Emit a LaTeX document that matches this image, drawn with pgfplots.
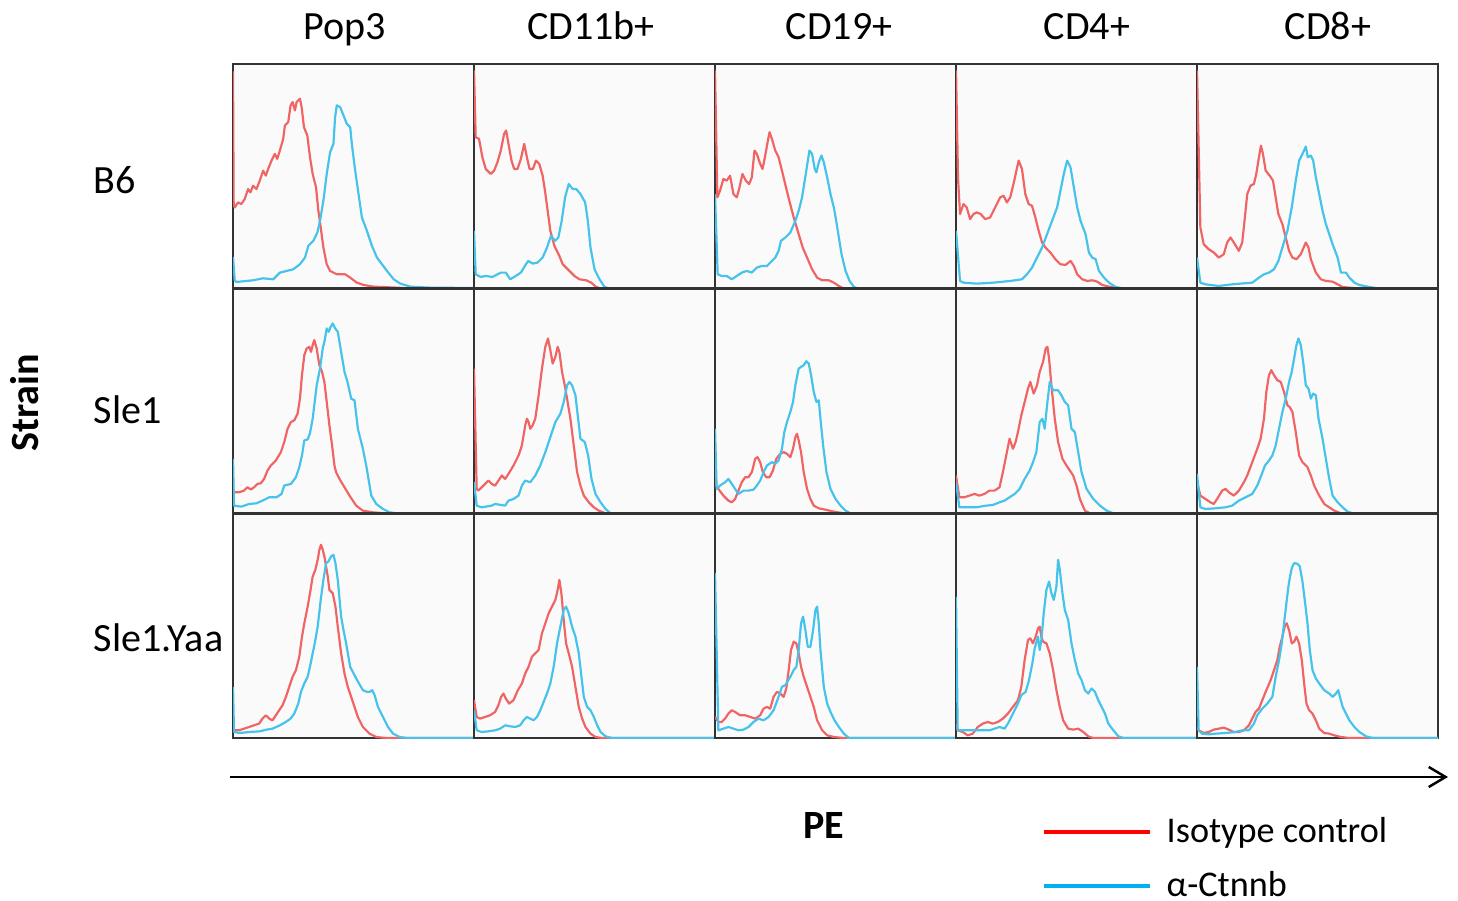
\documentclass[border=0pt]{standalone}
\usepackage{fontspec}
\setmainfont{Carlito}
\usepackage{pgfplots}
\pgfplotsset{compat=1.18}
\usetikzlibrary{arrows.meta}

\definecolor{isored}{RGB}{240,100,100}
\definecolor{ctnblue}{RGB}{70,195,235}
\definecolor{legred}{RGB}{255,0,0}
\definecolor{legblue}{RGB}{0,176,240}

% one pixel of the reference = 0.01cm; panels are 241 x 224.7 px
\pgfplotsset{
  panel/.style={
    anchor=south west, scale only axis,
    width=2.41cm, height=2.247cm,
    xmin=0, xmax=720, ymin=0, ymax=672,
    ticks=none,
    axis line style={black!80, line width=0.75pt},
    axis background/.style={fill=black!2},
    every axis plot/.append style={line width=0.62pt, line join=round},
  },
}
% #1 column, #2 row, #3 isotype control, #4 anti-Ctnnb
\newcommand\panel[4]{%
  \pgfmathsetmacro\px{2.33+2.41*#1}%
  \pgfmathsetmacro\py{8.37-2.2467*(#2+1)}%
  \begin{axis}[panel, at={(\px cm,\py cm)}]
    \addplot[isored] coordinates {#3};
    \addplot[ctnblue] coordinates {#4};
  \end{axis}}

\begin{document}
\begin{tikzpicture}
\path[use as bounding box] (0,0) rectangle (14.58,9.01);
\fontsize{11.4}{13.5}\selectfont

% ---- row B6
\panel{0}{0}{(0,650)(2,250)(5,243)(15,258)(25,253)(35,268)(45,298)(52,288)(60,308)(70,298)(80,323)(90,353)(98,338)(105,358)(115,383)(125,403)(132,388)(140,413)(150,448)(155,488)(165,498)(172,548)(178,558)(185,533)(190,558)(200,568)(205,543)(212,483)(222,458)(230,393)(238,343)(248,303)(255,233)(262,183)(270,123)(280,73)(290,53)(310,43)(335,43)(350,33)(370,18)(390,11)(420,6)(490,3)(540,0)(720,0)}
{(0,95)(5,25)(10,20)(30,22)(60,25)(90,31)(120,28)(140,48)(160,53)(180,58)(200,73)(215,93)(225,128)(240,143)(252,168)(260,203)(270,263)(280,343)(290,408)(300,433)(305,513)(310,548)(320,543)(330,518)(340,493)(350,483)(355,433)(365,353)(375,283)(385,213)(400,173)(415,128)(430,93)(445,73)(460,53)(480,28)(500,15)(530,6)(590,3)(720,2)}
\panel{1}{0}{(0,653)(5,453)(15,448)(25,393)(35,358)(50,343)(60,353)(70,378)(80,413)(90,463)(96,473)(103,433)(112,383)(120,358)(130,358)(140,388)(150,433)(158,393)(166,358)(176,358)(185,383)(195,373)(205,338)(212,293)(220,233)(228,173)(240,128)(255,98)(265,73)(280,58)(300,38)(315,28)(335,25)(350,18)(365,5)(380,0)(720,0)}
{(0,173)(5,43)(20,35)(35,38)(55,35)(80,48)(95,48)(108,28)(120,35)(140,48)(152,68)(162,83)(175,75)(190,78)(205,93)(218,123)(230,158)(242,143)(252,153)(262,203)(272,273)(283,313)(295,298)(305,298)(318,283)(332,258)(340,203)(348,123)(360,58)(375,28)(390,5)(405,0)(720,0)}
\panel{2}{0}{(0,653)(7,273)(15,293)(25,328)(35,323)(45,338)(55,283)(65,273)(72,298)(82,343)(92,323)(102,313)(110,333)(118,413)(125,403)(135,373)(142,358)(150,398)(158,443)(163,468)(170,448)(180,413)(190,393)(200,353)(212,303)(222,263)(235,213)(250,163)(262,123)(275,93)(290,58)(305,33)(320,25)(340,25)(355,18)(370,8)(385,0)(720,0)}
{(0,283)(8,43)(20,38)(35,38)(50,28)(65,38)(80,48)(95,53)(110,48)(125,63)(140,68)(155,68)(165,78)(180,93)(190,113)(197,143)(210,153)(225,168)(240,203)(250,233)(260,273)(268,323)(275,368)(282,413)(290,403)(298,358)(303,348)(310,378)(318,398)(325,378)(335,333)(345,283)(355,243)(362,203)(370,153)(378,103)(390,53)(402,23)(415,5)(430,0)(720,0)}
\panel{3}{0}{(0,653)(6,330)(12,223)(22,253)(32,243)(42,208)(52,223)(62,228)(74,223)(87,208)(102,213)(117,243)(132,273)(142,278)(152,258)(162,273)(174,323)(187,383)(197,358)(207,283)(217,253)(227,248)(237,213)(247,173)(257,138)(267,123)(282,108)(297,88)(312,73)(327,71)(342,83)(352,68)(362,43)(377,28)(392,23)(407,25)(422,21)(437,11)(462,5)(492,0)(720,0)}
{(0,173)(12,23)(22,18)(62,15)(112,18)(162,23)(197,28)(212,43)(227,63)(242,93)(257,123)(272,163)(287,203)(302,243)(312,293)(322,343)(332,383)(342,363)(352,303)(362,243)(372,203)(387,163)(397,108)(407,93)(417,88)(427,53)(442,33)(457,18)(477,5)(502,0)(720,0)}
\panel{4}{0}{(0,653)(10,183)(20,133)(35,118)(50,108)(65,93)(80,103)(90,138)(100,153)(110,138)(125,113)(135,138)(143,213)(150,283)(160,308)(170,313)(177,343)(185,393)(191,428)(197,403)(205,353)(217,338)(227,323)(235,273)(243,223)(255,193)(265,153)(275,113)(285,93)(297,88)(310,103)(325,138)(333,123)(340,88)(355,48)(370,28)(385,23)(405,21)(420,13)(435,5)(465,2)(505,0)(720,0)}
{(0,93)(10,18)(25,13)(65,8)(105,13)(165,18)(185,33)(200,43)(215,48)(230,58)(243,83)(255,123)(270,173)(283,243)(295,323)(305,383)(315,403)(325,425)(331,393)(340,398)(347,383)(355,333)(365,283)(375,233)(385,193)(395,163)(405,133)(420,93)(430,48)(445,48)(455,33)(470,18)(485,11)(515,5)(545,0)(720,0)}

% ---- row Sle1
\panel{0}{1}{(0,70)(3,63)(18,63)(33,68)(43,78)(53,71)(63,78)(73,88)(83,90)(93,103)(103,128)(113,143)(128,158)(143,183)(153,213)(163,253)(173,273)(183,278)(193,298)(200,343)(206,413)(213,473)(220,493)(228,498)(233,483)(238,503)(243,518)(250,493)(258,443)(266,423)(273,393)(280,333)(288,263)(296,203)(303,143)(308,123)(318,103)(333,78)(348,53)(368,23)(388,8)(418,3)(458,0)(720,0)}
{(0,163)(3,23)(25,20)(48,28)(70,30)(88,38)(108,48)(130,48)(145,58)(153,83)(173,88)(188,108)(198,138)(206,173)(213,218)(223,221)(230,240)(238,283)(250,383)(260,433)(268,493)(273,513)(280,553)(286,543)(292,558)(298,568)(305,553)(313,543)(323,483)(333,423)(342,393)(353,343)(363,338)(373,253)(388,193)(398,143)(413,53)(428,28)(448,13)(468,3)(490,0)(720,0)}
\panel{1}{1}{(0,433)(8,73)(13,68)(28,83)(43,98)(53,88)(63,83)(73,98)(83,113)(93,103)(103,118)(118,143)(133,173)(143,203)(153,263)(158,283)(163,273)(168,253)(175,263)(183,283)(193,353)(203,433)(213,498)(221,523)(228,488)(235,448)(243,468)(250,498)(255,483)(263,423)(271,383)(278,343)(288,283)(298,203)(308,123)(318,83)(328,53)(343,33)(358,18)(373,8)(393,0)(720,0)}
{(0,93)(8,23)(23,18)(53,23)(63,28)(93,23)(103,38)(118,43)(133,53)(143,83)(153,98)(168,93)(183,113)(198,143)(213,183)(223,213)(233,243)(243,273)(258,298)(268,333)(278,383)(285,393)(293,383)(303,353)(311,283)(318,223)(331,213)(341,173)(351,103)(363,58)(378,33)(393,13)(408,0)(720,0)}
\panel{2}{1}{(0,203)(3,83)(10,73)(25,53)(40,38)(50,33)(60,43)(70,68)(80,93)(90,108)(100,108)(110,123)(120,163)(127,168)(135,153)(143,123)(153,108)(163,108)(173,128)(183,163)(195,178)(205,183)(215,178)(225,168)(233,193)(240,228)(245,238)(250,218)(257,183)(265,123)(275,73)(285,43)(295,23)(310,15)(330,11)(355,5)(385,0)(720,0)}
{(0,253)(5,73)(15,83)(30,93)(40,103)(50,88)(60,73)(70,58)(85,68)(100,68)(115,71)(125,83)(135,98)(145,123)(155,143)(170,153)(180,148)(190,158)(200,193)(207,243)(215,273)(225,303)(233,333)(240,383)(250,433)(257,438)(265,443)(273,455)(280,448)(287,413)(295,363)(303,333)(310,338)(315,283)(323,203)(333,123)(345,73)(360,43)(375,23)(390,8)(405,0)(720,0)}
\panel{3}{1}{(0,113)(10,48)(25,48)(40,53)(55,58)(70,53)(85,58)(100,68)(115,68)(130,78)(140,123)(150,173)(160,223)(170,193)(178,213)(185,243)(195,293)(205,333)(215,373)(222,393)(232,358)(242,383)(250,423)(260,453)(268,493)(273,498)(278,463)(285,383)(295,283)(305,213)(318,163)(330,143)(340,128)(350,113)(360,83)(370,43)(385,8)(400,0)(720,0)}
{(0,93)(10,18)(30,18)(60,18)(90,23)(110,25)(130,33)(145,38)(160,48)(175,58)(190,73)(205,103)(220,128)(230,153)(240,183)(250,273)(258,283)(265,253)(272,323)(280,393)(290,368)(305,368)(315,353)(325,333)(335,323)(345,253)(355,243)(365,183)(375,123)(390,73)(410,43)(430,23)(450,8)(470,0)(720,0)}
\panel{4}{1}{(0,93)(10,53)(25,43)(40,33)(50,28)(60,43)(75,68)(85,73)(95,63)(110,53)(125,68)(140,93)(150,113)(165,153)(180,193)(190,223)(200,283)(207,363)(215,413)(222,428)(230,413)(240,398)(250,393)(260,363)(270,323)(277,318)(285,303)(295,243)(305,173)(315,153)(330,138)(340,113)(350,83)(365,53)(380,28)(395,18)(410,8)(430,0)(720,0)}
{(0,118)(10,18)(25,13)(55,15)(85,18)(105,23)(125,38)(145,48)(165,58)(180,83)(190,108)(203,143)(215,158)(225,173)(235,203)(245,253)(255,303)(265,343)(275,393)(283,423)(290,463)(297,503)(303,523)(310,503)(317,453)(325,383)(333,373)(340,343)(347,358)(355,353)(363,283)(375,223)(385,163)(395,103)(405,53)(420,33)(435,18)(450,5)(465,0)(720,0)}

% ---- row Sle1.Yaa
\panel{0}{2}{(0,23)(3,23)(18,23)(33,28)(48,33)(63,38)(78,43)(88,58)(98,68)(108,58)(118,53)(128,68)(138,83)(148,98)(158,123)(168,153)(178,183)(188,203)(198,243)(206,303)(213,343)(223,393)(230,433)(238,483)(246,503)(253,533)(258,563)(263,578)(268,563)(273,543)(278,513)(283,483)(288,443)(298,433)(306,393)(313,333)(323,253)(333,193)(343,153)(353,123)(363,93)(373,63)(388,33)(408,13)(428,3)(458,0)(720,0)}
{(0,153)(3,18)(20,15)(50,18)(80,20)(100,25)(118,28)(140,38)(158,48)(172,58)(183,73)(195,103)(203,138)(213,163)(223,183)(232,223)(238,253)(246,293)(253,333)(262,413)(270,473)(278,523)(285,528)(293,543)(300,548)(306,523)(313,473)(323,363)(330,323)(338,283)(350,213)(368,178)(388,143)(400,138)(408,138)(416,143)(423,128)(433,93)(448,63)(463,33)(478,13)(498,3)(520,0)(720,0)}
\panel{1}{2}{(0,113)(8,63)(18,58)(33,63)(48,68)(63,78)(73,98)(81,123)(88,133)(95,118)(105,103)(118,113)(131,143)(143,163)(153,193)(163,213)(173,243)(183,253)(193,263)(203,313)(213,343)(223,373)(233,393)(243,413)(250,443)(255,473)(261,433)(268,353)(275,283)(283,253)(293,213)(303,153)(313,93)(323,58)(333,33)(348,13)(363,3)(383,0)(720,0)}
{(0,83)(8,23)(23,18)(43,20)(63,23)(78,28)(93,38)(108,35)(123,33)(138,38)(148,53)(158,63)(168,58)(178,53)(188,63)(198,83)(208,108)(218,133)(228,163)(238,213)(248,283)(258,333)(268,383)(275,393)(283,373)(293,333)(303,303)(313,253)(321,183)(328,123)(338,93)(348,83)(358,63)(368,38)(378,18)(393,5)(413,0)(720,0)}
\panel{2}{2}{(0,63)(10,48)(20,48)(30,58)(40,73)(50,83)(60,78)(75,68)(90,68)(105,63)(120,58)(135,68)(145,88)(155,93)(165,88)(175,123)(185,138)(195,133)(205,123)(213,148)(220,203)(227,263)(235,288)(243,283)(250,253)(257,213)(265,183)(275,153)(285,123)(295,93)(305,53)(320,23)(335,8)(355,3)(385,0)(720,0)}
{(0,493)(10,23)(25,28)(40,33)(55,28)(70,23)(85,25)(100,33)(115,48)(130,58)(145,53)(160,63)(175,83)(190,123)(200,153)(210,158)(225,183)(235,203)(243,213)(250,263)(257,343)(263,363)(270,323)(277,273)(285,273)(293,323)(300,383)(305,393)(310,343)(315,263)(325,153)(335,103)(345,78)(357,53)(370,33)(385,13)(400,0)(720,0)}
\panel{3}{2}{(0,43)(5,23)(20,18)(35,8)(50,13)(65,33)(80,43)(95,48)(110,43)(125,48)(140,58)(155,73)(170,93)(185,113)(195,153)(205,233)(215,293)(222,298)(230,283)(238,303)(245,328)(250,333)(255,303)(260,288)(270,283)(280,253)(290,203)(300,143)(310,93)(320,53)(335,28)(350,25)(365,28)(380,18)(395,5)(410,0)(720,0)}
{(0,423)(5,23)(20,23)(60,23)(100,23)(115,28)(130,33)(145,28)(155,43)(165,63)(175,83)(185,103)(195,128)(208,138)(218,173)(228,223)(235,268)(245,303)(250,263)(255,293)(262,373)(270,443)(278,468)(285,433)(292,413)(300,453)(305,533)(310,503)(318,433)(325,383)(335,353)(345,283)(355,233)(365,193)(375,173)(385,143)(395,133)(405,148)(415,138)(425,113)(435,93)(445,73)(455,43)(470,23)(485,5)(500,0)(720,0)}
\panel{4}{2}{(0,33)(5,23)(20,15)(35,18)(50,25)(65,28)(80,31)(95,25)(110,18)(125,18)(140,23)(155,38)(165,58)(175,78)(185,88)(195,113)(205,138)(220,173)(230,203)(240,233)(247,273)(255,303)(263,338)(268,343)(275,323)(283,283)(290,288)(297,303)(305,283)(313,233)(320,163)(327,103)(335,83)(345,73)(355,53)(365,28)(380,15)(395,13)(410,8)(430,3)(455,0)(720,0)}
{(0,213)(5,23)(15,13)(35,11)(55,13)(85,15)(115,18)(135,23)(155,23)(170,43)(180,68)(195,88)(210,103)(225,123)(235,183)(245,233)(253,283)(260,343)(267,403)(273,453)(277,478)(283,508)(290,523)(300,521)(307,513)(315,468)(323,403)(330,343)(337,263)(345,203)(355,178)(365,163)(380,143)(395,133)(405,123)(415,133)(422,143)(427,123)(435,93)(445,73)(455,53)(470,33)(485,18)(505,5)(525,0)(720,0)}

% ---- legend, in a hidden axis spanning the whole picture (pixel units)
\begin{axis}[
  anchor=south west, at={(0cm,0cm)}, scale only axis,
  width=14.58cm, height=9.01cm,
  xmin=0, xmax=1458, ymin=0, ymax=901,
  hide axis,
  legend cell align=left,
  legend style={at={(0.7140,0.0972)}, anchor=north west, draw=none, fill=none,
    inner sep=0pt, row sep=5.4pt, column sep=4.2pt,
    nodes={inner sep=0pt, text height=8pt, text depth=2pt},
    font=\fontsize{10.3}{12}\selectfont},
  legend image code/.code={\draw[#1] (0cm,0cm) -- (1.06cm,0cm);},
]
  \addlegendimage{legred, line width=1.2pt}
  \addlegendentry{Isotype control}
  \addlegendimage{legblue, line width=1.2pt}
  \addlegendentry{α-Ctnnb}
\end{axis}

% ---- labels
\node[anchor=base] at (3.45,8.61) {Pop3};
\node[anchor=base] at (5.91,8.61) {CD11b+};
\node[anchor=base] at (8.39,8.61) {CD19+};
\node[anchor=base] at (10.87,8.61) {CD4+};
\node[anchor=base] at (13.28,8.61) {CD8+};
\node[anchor=west, inner xsep=0pt] at (0.93,7.21) {B6};
\node[anchor=west, inner xsep=0pt] at (0.93,4.91) {Sle1};
\node[anchor=west, inner xsep=0pt] at (0.93,2.63) {Sle1.Yaa};
\node[rotate=90, font=\bfseries] at (0.25,4.98) {Strain};
\node[font=\bfseries] at (8.24,0.75) {PE};
\draw[line width=0.7pt, -{Straight Barb[length=4.8pt, width=5.7pt]}] (2.30,1.24) -- (14.48,1.24);
\end{tikzpicture}
\end{document}
